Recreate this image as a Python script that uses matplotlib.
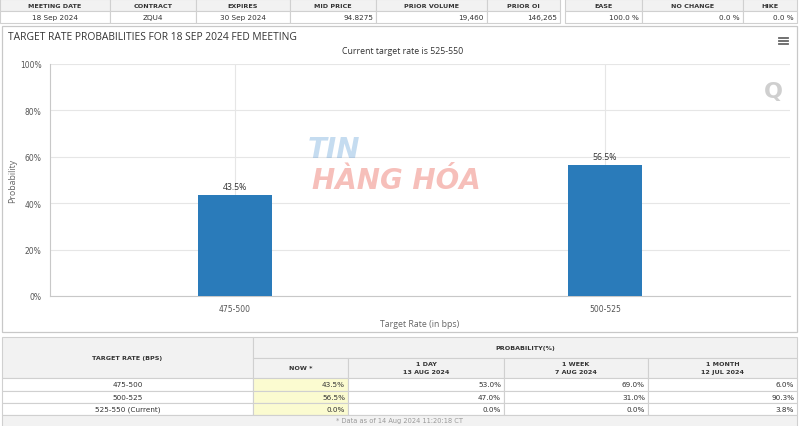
import matplotlib
matplotlib.use("Agg")
import matplotlib.pyplot as plt
from matplotlib.patches import Rectangle
from matplotlib.ticker import FuncFormatter

# ---------------- data ----------------
top_headers = ["MEETING DATE", "CONTRACT", "EXPIRES", "MID PRICE", "PRIOR VOLUME", "PRIOR OI"]
top_values = ["18 Sep 2024", "ZQU4", "30 Sep 2024", "94.8275", "19,460", "146,265"]
side_headers = ["EASE", "NO CHANGE", "HIKE"]
side_values = ["100.0 %", "0.0 %", "0.0 %"]

title = "TARGET RATE PROBABILITIES FOR 18 SEP 2024 FED MEETING"
subtitle = "Current target rate is 525-550"
categories = ["475-500", "500-525"]
probabilities = [43.5, 56.5]
y_ticks = [0, 20, 40, 60, 80, 100]

table_rates = ["475-500", "500-525", "525-550 (Current)"]
prob_now = ["43.5%", "56.5%", "0.0%"]
prob_1day = ["53.0%", "47.0%", "0.0%"]
prob_1week = ["69.0%", "31.0%", "0.0%"]
prob_1month = ["6.0%", "90.3%", "3.8%"]
period_headers = [("NOW", ""), ("1 DAY", "13 AUG 2024"), ("1 WEEK", "7 AUG 2024"), ("1 MONTH", "12 JUL 2024")]
footnote = "* Data as of 14 Aug 2024 11:20:18 CT"

# ---------------- figure ----------------
W, H = 800, 427
fig = plt.figure(figsize=(W / 100, H / 100), dpi=100)
plt.rcParams['font.family'] = ['DejaVu Sans']
bg = fig.add_axes([0, 0, 1, 1])
bg.set_xlim(0, W)
bg.set_ylim(H, 0)
bg.axis("off")

LINE = "#d0d0d0"
HEAD = "#f2f2f2"
TXT = "#333333"


def cell(x0, x1, y0, y1, fc="white", ec=LINE, lw=0.8):
    bg.add_patch(Rectangle((x0, y0), x1 - x0, y1 - y0, facecolor=fc, edgecolor=ec, lw=lw, zorder=1))


# ---------- top table ----------
top_cols = [0, 110, 196, 290, 376, 487, 560]
side_cols = [565, 642, 743, 797]
hy0, hy1, vy1 = 0, 11.5, 24
for i, (h, v) in enumerate(zip(top_headers, top_values)):
    x0, x1 = top_cols[i], top_cols[i + 1]
    cell(x0, x1, hy0, hy1, fc=HEAD)
    cell(x0, x1, hy1, vy1)
    bg.text((x0 + x1) / 2, (hy0 + hy1) / 2 + 0.5, h, ha="center", va="center", fontsize=4.6,
            fontweight="bold", color=TXT, zorder=3)
    if i in (0, 1, 2):
        bg.text((x0 + x1) / 2, (hy1 + vy1) / 2, v, ha="center", va="center", fontsize=5.2, color=TXT, zorder=3)
    else:
        bg.text(x1 - 3, (hy1 + vy1) / 2, v, ha="right", va="center", fontsize=5.2, color=TXT, zorder=3)
for i, (h, v) in enumerate(zip(side_headers, side_values)):
    x0, x1 = side_cols[i], side_cols[i + 1]
    cell(x0, x1, hy0, hy1, fc=HEAD)
    cell(x0, x1, hy1, vy1)
    bg.text((x0 + x1) / 2, (hy0 + hy1) / 2 + 0.5, h, ha="center", va="center", fontsize=4.6,
            fontweight="bold", color=TXT, zorder=3)
    bg.text(x1 - 3, (hy1 + vy1) / 2, v, ha="right", va="center", fontsize=5.2, color=TXT, zorder=3)

# ---------- chart panel ----------
cell(2, 797, 27, 333, fc="white", ec="#c8c8c8", lw=0.9)
bg.text(8, 38, title, ha="left", va="center", fontsize=7.4, color="#333333", family="Open Sans", zorder=3)
bg.text(403, 51, subtitle, ha="center", va="center", fontsize=6.3, color="#333333", family="Open Sans", zorder=3)
for dy in (-3, 0, 3):
    bg.plot([779, 788], [42 + dy, 42 + dy], color="#666666", lw=1.3, zorder=3)

# chart axes (pixel-mapped)
L, R, T, B = 50, 790, 65, 297
ax = fig.add_axes([L / W, 1 - B / H, (R - L) / W, (B - T) / H])
ax.patch.set_visible(False)
x = list(range(len(categories)))
ax.bar(x, probabilities, width=0.2, color="#2a7bba", zorder=3)
for xi, p in zip(x, probabilities):
    ax.annotate(f"{p}%", (xi, p), xytext=(0, 3), textcoords="offset points", ha="center", va="bottom",
                fontsize=6.3, color="#333333", family="Open Sans")
ax.set_xlim(-0.5, len(categories) - 0.5)
ax.set_ylim(0, 100)
ax.set_yticks(y_ticks)
ax.yaxis.set_major_formatter(FuncFormatter(lambda v, _: f"{int(v)}%"))
ax.set_xticks(x)
ax.set_xticklabels(categories)
ax.grid(axis="both", color="#e6e6e6", lw=0.8, zorder=0)
for s in ("top", "right"):
    ax.spines[s].set_visible(False)
ax.spines["left"].set_color("#c8c8c8")
ax.spines["bottom"].set_color("#c8c8c8")
ax.tick_params(axis="both", length=0, labelsize=5.5, colors="#555555", pad=6)
ax.set_ylabel("Probability", fontsize=6.3, color="#666666", family="Open Sans", labelpad=2)
ax.set_xlabel("Target Rate (in bps)", fontsize=6.3, color="#666666", family="Open Sans", labelpad=4)

# watermark overlay (figure-level, drawn on top)
fig.text(308 / W, 1 - 150 / H, "TIN", fontsize=20, fontweight="bold", fontstyle="italic", color="#5b9bd5",
         alpha=0.35, ha="left", va="center", zorder=10)
fig.text(312 / W, 1 - 181 / H, "HÀNG HÓA", fontsize=20, fontweight="bold", fontstyle="italic", color="#e8493a",
         alpha=0.35, ha="left", va="center", zorder=10)
fig.text(773 / W, 1 - 92 / H, "Q", fontsize=16, fontweight="bold", color="#b0b0b0", alpha=0.6,
         ha="center", va="center", zorder=10)

# ---------- bottom table ----------
ty0, ty1, ty2 = 338, 359, 379
rows_y = [379, 391.5, 404, 416]
cols = [2, 253, 348, 504, 648, 797]
cell(cols[0], cols[1], ty0, ty2, fc=HEAD)
bg.text((cols[0] + cols[1]) / 2, (ty0 + ty2) / 2, "TARGET RATE (BPS)", ha="center", va="center",
        fontsize=4.6, fontweight="bold", color=TXT, zorder=3)
cell(cols[1], cols[5], ty0, ty1, fc=HEAD)
bg.text((cols[1] + cols[5]) / 2, (ty0 + ty1) / 2, "PROBABILITY(%)", ha="center", va="center",
        fontsize=4.6, fontweight="bold", color=TXT, zorder=3)
for i, (h1, h2) in enumerate(period_headers):
    x0, x1 = cols[i + 1], cols[i + 2]
    cell(x0, x1, ty1, ty2, fc=HEAD)
    if h2:
        bg.text((x0 + x1) / 2, ty1 + 6, h1, ha="center", va="center", fontsize=4.6, fontweight="bold",
                color=TXT, zorder=3)
        bg.text((x0 + x1) / 2, ty1 + 14, h2, ha="center", va="center", fontsize=4.6, fontweight="bold",
                color=TXT, zorder=3)
    else:
        bg.text((x0 + x1) / 2, (ty1 + ty2) / 2, h1 + " *", ha="center", va="center", fontsize=4.6,
                fontweight="bold", color=TXT, zorder=3)

columns_vals = [prob_now, prob_1day, prob_1week, prob_1month]
for r, rate in enumerate(table_rates):
    y0, y1 = rows_y[r], rows_y[r + 1]
    cell(cols[0], cols[1], y0, y1)
    bg.text((cols[0] + cols[1]) / 2, (y0 + y1) / 2, rate, ha="center", va="center", fontsize=5.2,
            color=TXT, zorder=3)
    for c, vals in enumerate(columns_vals):
        x0, x1 = cols[c + 1], cols[c + 2]
        cell(x0, x1, y0, y1, fc="#fbfbd0" if c == 0 else "white")
        bg.text(x1 - 3, (y0 + y1) / 2, vals[r], ha="right", va="center", fontsize=5.2, color=TXT, zorder=3)
cell(cols[0], cols[5], rows_y[-1], H + 2, fc=HEAD)
bg.text(400, 421.5, footnote, ha="center", va="center", fontsize=4.8, color="#999999", zorder=3)

fig.savefig("out.png", dpi=100)
